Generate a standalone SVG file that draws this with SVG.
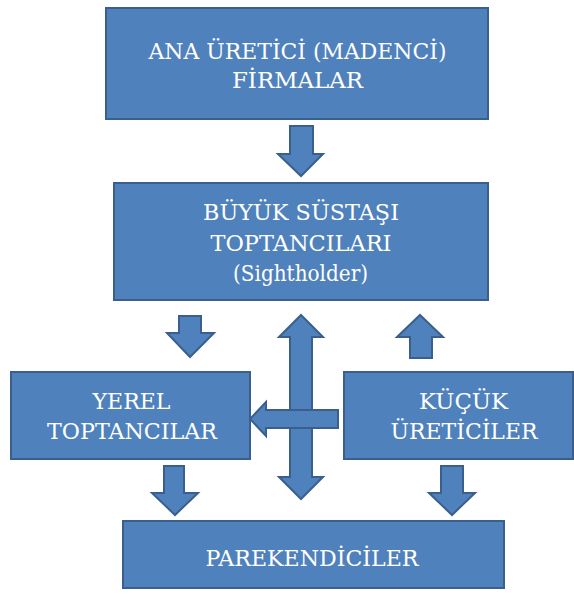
<svg xmlns="http://www.w3.org/2000/svg" width="574" height="594" viewBox="0 0 574 594">
<style>
.box{fill:#4F81BD;stroke:#3A5F8C;stroke-width:2}
.arr{fill:#4F81BD;stroke:#3A5F8C;stroke-width:2;stroke-linejoin:miter}
.t{font-family:"DejaVu Serif","Liberation Serif",serif;font-size:22.5px;fill:#FFFFFF;text-anchor:middle}
</style>
<rect width="574" height="594" fill="#FFFFFF"/>
<g id="connectors">
<polygon class="arr" points="290,126 313,126 313,154 323,154 301,176 278,154 290,154"/>
<polygon class="arr" points="179,316 201,316 201,333 214,333 190,357 167,333 179,333"/>
<polygon class="arr" points="420,315 443,337 432,337 432,358 410,358 410,337 397,337"/>
<polygon class="arr" points="301,315 323,337 312,337 312,477 323,477 301,499 279,477 290,477 290,337 279,337"/>
<polygon class="arr" points="250,419 266,402 266,410 338,410 338,428 266,428 266,436"/>
<polygon class="arr" points="164,466 184,466 184,493 198,493 175,515 152,493 164,493"/>
<polygon class="arr" points="441,466 463,466 463,493 475,493 452,515 429,493 441,493"/>
</g>
<g id="ana-uretici">
<rect class="box" x="106" y="8" width="382" height="111"/>
<text class="t" x="297.5" y="59" textLength="298" lengthAdjust="spacingAndGlyphs">ANA ÜRETİCİ (MADENCİ)</text>
<text class="t" x="297.5" y="88" textLength="131" lengthAdjust="spacingAndGlyphs">FİRMALAR</text>
</g>
<g id="buyuk-sustasi">
<rect class="box" x="114" y="183" width="374" height="117"/>
<text class="t" x="301" y="220" textLength="196" lengthAdjust="spacingAndGlyphs">BÜYÜK SÜSTAŞI</text>
<text class="t" x="301" y="251" textLength="181" lengthAdjust="spacingAndGlyphs">TOPTANCILARI</text>
<text class="t" x="300.5" y="281" textLength="135" lengthAdjust="spacingAndGlyphs">(Sightholder)</text>
</g>
<g id="yerel-toptancilar">
<rect class="box" x="11" y="372" width="239" height="87"/>
<text class="t" x="131.5" y="409" textLength="78" lengthAdjust="spacingAndGlyphs">YEREL</text>
<text class="t" x="132" y="439" textLength="170" lengthAdjust="spacingAndGlyphs">TOPTANCILAR</text>
</g>
<g id="kucuk-ureticiler">
<rect class="box" x="344" y="372" width="229" height="87"/>
<text class="t" x="463.5" y="409" textLength="89" lengthAdjust="spacingAndGlyphs">KÜÇÜK</text>
<text class="t" x="464" y="439" textLength="147" lengthAdjust="spacingAndGlyphs">ÜRETİCİLER</text>
</g>
<g id="parekendiciler">
<rect class="box" x="123" y="521" width="381" height="67"/>
<text class="t" x="312" y="566" textLength="213" lengthAdjust="spacingAndGlyphs">PAREKENDİCİLER</text>
</g>
</svg>
